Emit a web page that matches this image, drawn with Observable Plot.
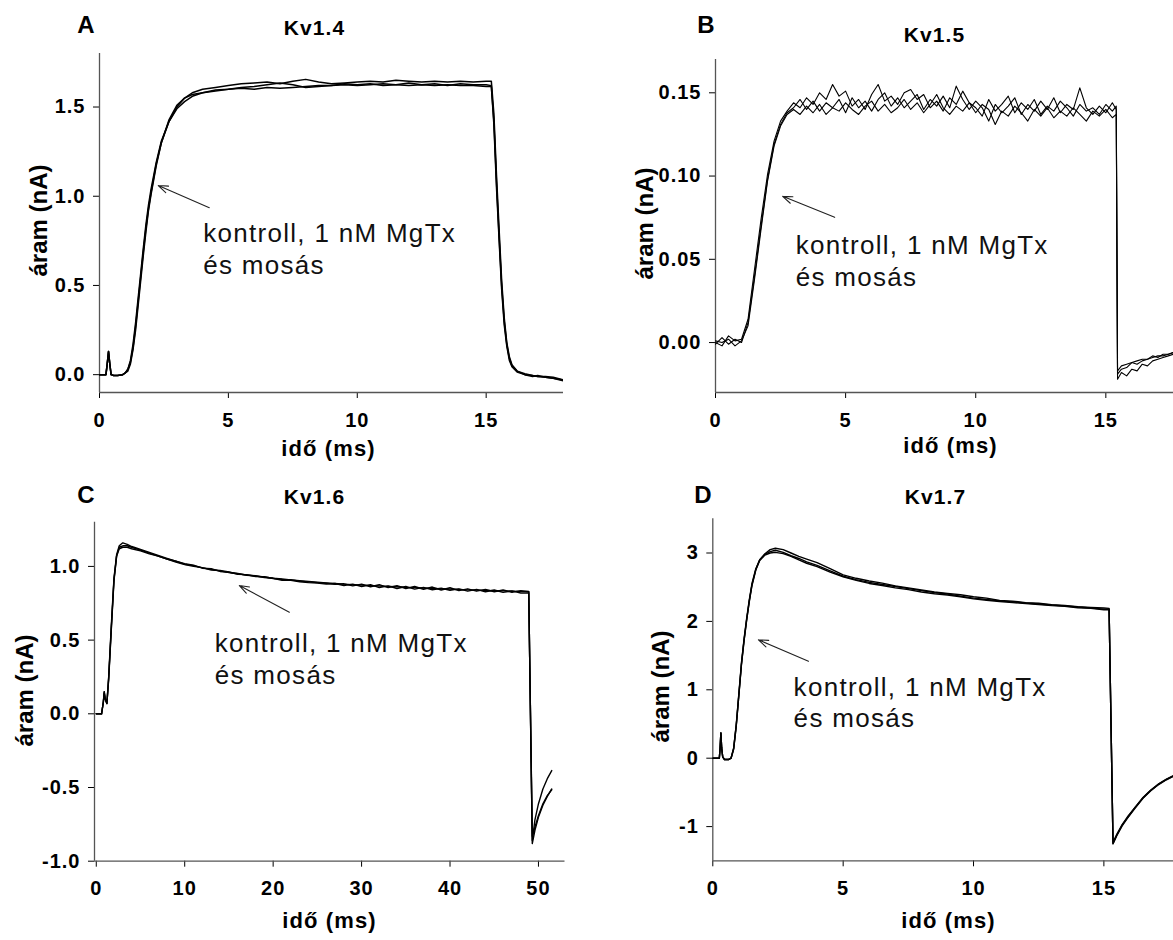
<!DOCTYPE html>
<html><head><meta charset="utf-8">
<script src="https://cdn.jsdelivr.net/npm/d3@7"></script>
<script src="https://cdn.jsdelivr.net/npm/@observablehq/plot@0.6"></script>
<style>
html,body{margin:0;padding:0;background:#fff;}
body{width:1173px;height:940px;position:relative;overflow:hidden;}
.panel{position:absolute;}
</style></head><body>
<div id="pA" class="panel" style="left:0;top:0;width:586px;height:470px"></div>
<div id="pB" class="panel" style="left:586px;top:0;width:587px;height:470px"></div>
<div id="pC" class="panel" style="left:0;top:470px;width:586px;height:470px"></div>
<div id="pD" class="panel" style="left:586px;top:470px;width:587px;height:470px"></div>
<script>
// ---------- shared text ----------
const noteLines = ["kontroll, 1 nM MgTx", "és mosás"];
const xLabel = "idő (ms)";
const yLabel = "áram (nA)";

// ---------- Panel A: Kv1.4 ----------
const tA = [0, 0.25, 0.3, 0.35, 0.4, 0.45, 0.55, 0.7, 0.9, 1.0, 1.1, 1.2, 1.3, 1.4, 1.5, 1.6, 1.7, 1.8, 1.9, 2.0, 2.2, 2.4, 2.7, 3.0, 3.3, 3.6, 4.0, 4.5, 5.0, 5.5, 6.0, 6.5, 7.0, 7.5, 8.0, 8.5, 9.0, 9.5, 10.0, 10.5, 11.0, 11.5, 12.0, 12.5, 13.0, 13.5, 14.0, 14.5, 15.0, 15.2, 15.3, 15.4, 15.5, 15.6, 15.7, 15.8, 15.9, 16.0, 16.2, 16.5, 16.8, 17.0, 17.3, 17.6, 18.0];
const a1 = [0, 0, 0.06, 0.13, 0.06, 0.0, -0.005, -0.005, 0.0, 0.01, 0.03, 0.08, 0.17, 0.29, 0.43, 0.57, 0.71, 0.84, 0.95, 1.04, 1.19, 1.31, 1.42, 1.49, 1.53, 1.56, 1.58, 1.59, 1.60, 1.605, 1.60, 1.61, 1.605, 1.61, 1.615, 1.62, 1.62, 1.625, 1.62, 1.625, 1.63, 1.625, 1.62, 1.625, 1.62, 1.625, 1.62, 1.62, 1.615, 1.615, 1.42, 1.08, 0.78, 0.50, 0.30, 0.17, 0.09, 0.05, 0.02, 0.0, -0.005, -0.01, -0.01, -0.015, -0.03];
const a2 = [0, 0, 0.06, 0.13, 0.06, 0.0, -0.005, -0.005, 0.0, 0.01, 0.03, 0.07, 0.15, 0.27, 0.41, 0.55, 0.69, 0.82, 0.93, 1.02, 1.18, 1.30, 1.42, 1.50, 1.55, 1.58, 1.60, 1.61, 1.62, 1.63, 1.635, 1.64, 1.63, 1.645, 1.655, 1.64, 1.63, 1.635, 1.64, 1.645, 1.64, 1.65, 1.645, 1.64, 1.645, 1.64, 1.645, 1.64, 1.645, 1.645, 1.46, 1.12, 0.82, 0.53, 0.32, 0.18, 0.10, 0.055, 0.02, 0.005, -0.005, -0.01, -0.015, -0.02, -0.03];
const a3 = [0, 0, 0.06, 0.13, 0.06, 0.0, -0.005, -0.005, 0.0, 0.01, 0.02, 0.06, 0.14, 0.25, 0.39, 0.53, 0.67, 0.80, 0.92, 1.01, 1.17, 1.30, 1.43, 1.51, 1.55, 1.57, 1.58, 1.595, 1.60, 1.61, 1.615, 1.625, 1.635, 1.625, 1.61, 1.615, 1.62, 1.63, 1.625, 1.63, 1.62, 1.625, 1.635, 1.625, 1.63, 1.62, 1.63, 1.625, 1.625, 1.62, 1.40, 1.05, 0.76, 0.48, 0.28, 0.16, 0.08, 0.045, 0.015, 0.0, -0.01, -0.005, -0.015, -0.02, -0.035];
const xTicksA = [0, 5, 10, 15];
const yTicksA = [0, 0.5, 1.0, 1.5];

// ---------- Panel B: Kv1.5 ----------
const tB = [0, 0.25, 0.5, 0.75, 1, 1.25, 1.5, 1.75, 2, 2.25, 2.5, 2.75, 3, 3.25, 3.5, 3.75, 4, 4.25, 4.5, 4.75, 5, 5.25, 5.5, 5.75, 6, 6.25, 6.5, 6.75, 7, 7.25, 7.5, 7.75, 8, 8.25, 8.5, 8.75, 9, 9.25, 9.5, 9.75, 10, 10.25, 10.5, 10.75, 11, 11.25, 11.5, 11.75, 12, 12.25, 12.5, 12.75, 13, 13.25, 13.5, 13.75, 14, 14.25, 14.5, 14.75, 15, 15.25, 15.4, 15.45, 15.6, 15.8, 16, 16.2, 16.4, 16.6, 16.8, 17, 17.2, 17.4, 17.6];
const b1 = [0.000, -0.002, 0.004, 0.001, 0.002, 0.014, 0.044, 0.074, 0.101, 0.121,
  0.133, 0.139, 0.144, 0.141, 0.147, 0.143, 0.150, 0.146, 0.155, 0.148,
  0.151, 0.142, 0.146, 0.140, 0.149, 0.155, 0.145, 0.148, 0.143, 0.150,
  0.152, 0.146, 0.149, 0.141, 0.145, 0.139, 0.147, 0.143, 0.151, 0.144,
  0.141, 0.136, 0.146, 0.139, 0.143, 0.148, 0.138, 0.144, 0.140, 0.146,
  0.137, 0.142, 0.139, 0.145, 0.141, 0.136, 0.143, 0.139, 0.141, 0.137,
  0.143, 0.139, 0.142,
  -0.017, -0.014, -0.013, -0.012, -0.011, -0.010, -0.010, -0.009, -0.008, -0.008, -0.007, -0.006];
const b2 = [-0.001, 0.003, -0.001, 0.002, 0.000, 0.012, 0.040, 0.070, 0.098, 0.119,
  0.131, 0.138, 0.141, 0.146, 0.140, 0.145, 0.139, 0.144, 0.141, 0.146,
  0.138, 0.147, 0.141, 0.145, 0.139, 0.146, 0.150, 0.142, 0.147, 0.141,
  0.145, 0.149, 0.140, 0.146, 0.142, 0.148, 0.141, 0.154, 0.146, 0.140,
  0.145, 0.141, 0.133, 0.143, 0.138, 0.142, 0.147, 0.137, 0.143, 0.139,
  0.145, 0.140, 0.147, 0.138, 0.143, 0.140, 0.153, 0.141, 0.137, 0.142,
  0.138, 0.144, 0.140,
  -0.019, -0.016, -0.015, -0.012, -0.013, -0.011, -0.010, -0.008, -0.009, -0.007, -0.007, -0.006];
const b3 = [0.001, 0.000, 0.002, -0.002, 0.001, 0.010, 0.038, 0.068, 0.097, 0.118,
  0.130, 0.137, 0.140, 0.137, 0.142, 0.138, 0.143, 0.137, 0.141, 0.139,
  0.144, 0.140, 0.137, 0.142, 0.145, 0.139, 0.143, 0.138, 0.141, 0.146,
  0.140, 0.144, 0.138, 0.143, 0.149, 0.141, 0.137, 0.142, 0.139, 0.144,
  0.138, 0.143, 0.140, 0.131, 0.139, 0.136, 0.142, 0.138, 0.133, 0.140,
  0.136, 0.141, 0.135, 0.139, 0.136, 0.141, 0.137, 0.133, 0.139, 0.136,
  0.140, 0.135, 0.137,
  -0.022, -0.018, -0.020, -0.016, -0.017, -0.013, -0.014, -0.011, -0.010, -0.009, -0.008, -0.007];
const xTicksB = [0, 5, 10, 15];
const yTicksB = [0, 0.05, 0.10, 0.15];

// ---------- Panel C: Kv1.6 ----------
const tC = [0, 0.6, 0.8, 0.9, 1.0, 1.2, 1.4, 1.7, 2.0, 2.3, 2.6, 3.0, 3.5, 4, 5, 6, 7, 8, 9, 10, 11, 12, 13, 14, 15, 16, 17, 18, 19, 20, 21, 22, 23, 24, 25, 26, 27, 28, 29, 30, 31, 32, 33, 34, 35, 36, 37, 38, 39, 40, 41, 42, 43, 44, 45, 46, 47, 48, 48.9, 49.3, 49.6, 50.0, 50.5, 51.0, 51.5];
const c1 = [0, 0, 0.08, 0.15, 0.10, 0.07, 0.25, 0.60, 0.92, 1.08, 1.14, 1.16, 1.15,
  1.135, 1.115, 1.095, 1.075, 1.055, 1.035, 1.015, 1.005, 0.99, 0.98,
  0.97, 0.958, 0.95, 0.942, 0.935, 0.928, 0.92, 0.915, 0.908, 0.903,
  0.898, 0.893, 0.888, 0.884, 0.88, 0.876, 0.873, 0.87, 0.867, 0.864,
  0.862, 0.858, 0.856, 0.853, 0.851, 0.848, 0.846, 0.843, 0.841, 0.839,
  0.837, 0.835, 0.834, 0.832, 0.831,
  0.83, -0.86, -0.72, -0.61, -0.51, -0.44, -0.385];
const c2 = [0, 0, 0.08, 0.14, 0.10, 0.07, 0.23, 0.57, 0.90, 1.07, 1.13, 1.14, 1.14,
  1.13, 1.11, 1.09, 1.07, 1.05, 1.03, 1.012, 1.0, 0.992, 0.976,
  0.972, 0.962, 0.946, 0.944, 0.932, 0.93, 0.918, 0.912, 0.91, 0.9,
  0.895, 0.89, 0.886, 0.878, 0.882, 0.868, 0.88, 0.862, 0.876, 0.856,
  0.87, 0.85, 0.864, 0.845, 0.86, 0.84, 0.855, 0.836, 0.848, 0.832,
  0.844, 0.828, 0.84, 0.824, 0.836,
  0.828, -0.88, -0.79, -0.70, -0.62, -0.56, -0.51];
const c3 = [0, 0, 0.08, 0.15, 0.11, 0.07, 0.24, 0.58, 0.91, 1.07, 1.12, 1.13, 1.13,
  1.12, 1.105, 1.085, 1.07, 1.05, 1.035, 1.018, 1.008, 0.988, 0.984,
  0.966, 0.96, 0.952, 0.94, 0.937, 0.925, 0.92, 0.906, 0.905, 0.896,
  0.89, 0.887, 0.88, 0.884, 0.87, 0.88, 0.864, 0.876, 0.856, 0.868,
  0.85, 0.864, 0.846, 0.858, 0.842, 0.852, 0.838, 0.848, 0.832, 0.844,
  0.828, 0.84, 0.824, 0.834, 0.82,
  0.82, -0.83, -0.77, -0.69, -0.61, -0.555, -0.515];
const xTicksC = [0, 10, 20, 30, 40, 50];
const yTicksC = [-1.0, -0.5, 0, 0.5, 1.0];

// ---------- Panel D: Kv1.7 ----------
const tD = [0, 0.25, 0.28, 0.31, 0.34, 0.38, 0.45, 0.6, 0.7, 0.8, 0.9, 1.0, 1.1, 1.2, 1.3, 1.4, 1.5, 1.65, 1.8, 2.0, 2.2, 2.4, 2.7, 3.0, 3.3, 3.6, 4.0, 4.5, 5.0, 5.5, 6.0, 6.5, 7.0, 7.5, 8.0, 8.5, 9.0, 9.5, 10.0, 10.5, 11.0, 11.5, 12.0, 12.5, 13.0, 13.5, 14.0, 14.5, 15.0, 15.2, 15.35, 15.5, 15.7, 15.9, 16.2, 16.5, 16.8, 17.1, 17.4, 17.67];
const d1 = [0, 0, 0.15, 0.37, 0.15, 0.02, -0.02, -0.02, 0.0,
  0.15, 0.5, 0.95, 1.4, 1.75, 2.05, 2.32, 2.55,
  2.77, 2.9, 2.98, 3.02, 3.04, 3.01, 2.96, 2.92, 2.87,
  2.82, 2.74, 2.66, 2.61, 2.57, 2.54, 2.51, 2.48, 2.45, 2.42, 2.40, 2.37, 2.34, 2.32, 2.30, 2.285, 2.27, 2.255, 2.24, 2.225, 2.21, 2.195, 2.18,
  2.18,
  -1.25, -1.12, -0.98, -0.87, -0.72, -0.58, -0.47, -0.38, -0.31, -0.26];
const d2 = [0, 0, 0.15, 0.37, 0.15, 0.02, -0.02, -0.02, 0.0,
  0.14, 0.48, 0.93, 1.38, 1.73, 2.03, 2.30, 2.53,
  2.76, 2.9, 2.99, 3.05, 3.07, 3.05, 3.0, 2.95, 2.91,
  2.86, 2.77, 2.68, 2.63, 2.59, 2.56, 2.52, 2.49, 2.46, 2.43, 2.41, 2.39, 2.36, 2.34, 2.305, 2.295, 2.275, 2.265, 2.245, 2.235, 2.215, 2.205, 2.195,
  2.19,
  -1.25, -1.13, -0.99, -0.88, -0.73, -0.585, -0.475, -0.385, -0.315, -0.265];
const d3v = [0, 0, 0.15, 0.37, 0.15, 0.02, -0.02, -0.02, 0.0,
  0.13, 0.47, 0.92, 1.37, 1.72, 2.02, 2.29, 2.52,
  2.75, 2.89, 2.97, 3.0, 3.01, 2.99, 2.95, 2.9, 2.85,
  2.8, 2.72, 2.65, 2.6, 2.555, 2.525, 2.49, 2.465, 2.43, 2.405, 2.385, 2.36, 2.33, 2.31, 2.29, 2.275, 2.26, 2.245, 2.23, 2.22, 2.2, 2.19, 2.17,
  2.17,
  -1.23, -1.11, -0.97, -0.86, -0.715, -0.575, -0.465, -0.375, -0.305, -0.255];
const xTicksD = [0, 5, 10, 15];
const yTicksD = [-1, 0, 1, 2, 3];

// ---------- drawing ----------
const FONT = "'Liberation Sans', Arial, Helvetica, sans-serif";
const TICK_FONT = "20px";

function panel(elId, cfg) {
  const data = [];
  cfg.series.forEach((s, k) => s.forEach((v, i) => data.push({t: cfg.t[i], v, k})));
  const L = cfg.layout;
  const at = (p) => ({frameAnchor: "top-left", dx: p[0] - L.ml, dy: p[1] - L.mt, lineAnchor: "middle", textAnchor: "middle"});
  const svg = Plot.plot({
    width: L.w, height: L.h,
    marginLeft: L.ml, marginRight: L.mr, marginTop: L.mt, marginBottom: L.mb,
    style: {fontFamily: FONT, fontSize: TICK_FONT, fontWeight: "bold", color: "#000", background: "#fff", overflow: "visible", maxWidth: "none"},
    x: {domain: cfg.xDomain, ticks: cfg.xTicks, tickFormat: d => String(d), tickSize: 6, tickPadding: 14, label: null},
    y: {domain: cfg.yDomain, ticks: cfg.yTicks, tickFormat: cfg.yFormat, tickSize: 6, tickPadding: 8, label: null},
    marks: [
      Plot.ruleX([cfg.xDomain[0]], {stroke: "#555", strokeWidth: 1.3}),
      Plot.ruleY([cfg.yDomain[0]], {stroke: "#555", strokeWidth: 1.3}),
      Plot.line(data, {x: "t", y: "v", z: "k", stroke: "#000", strokeWidth: cfg.lw, clip: true}),
      Plot.arrow([cfg.arrow], {x1: "x1", y1: "y1", x2: "x2", y2: "y2", stroke: "#222", strokeWidth: 1.1, headLength: 14, headAngle: 40}),
      Plot.text(noteLines, {x: () => cfg.note.x, y: (d, i) => cfg.note.y[i], text: d => d, textAnchor: "start", lineAnchor: "middle", fontSize: 26, fontWeight: "normal", fill: "#111"}),
      Plot.text([cfg.letter], {text: d => d, ...at(L.letter), fontSize: 24}),
      Plot.text([cfg.title], {text: d => d, ...at(L.title), fontSize: 21}),
      Plot.text([xLabel], {text: d => d, ...at(L.xlab), fontSize: 22}),
      Plot.text([yLabel], {text: d => d, ...at(L.ylab), fontSize: 24, rotate: -90})
    ]
  });
  // tick labels: enforce size/weight on the axis groups
  svg.querySelectorAll("g[aria-label]").forEach(g => {
    const lab = g.getAttribute("aria-label") || "";
    if (/tick label|^x-axis$|^y-axis$/.test(lab)) {
      g.setAttribute("font-size", "20");
      g.style.fontSize = TICK_FONT;
      g.style.fontWeight = "bold";
      g.querySelectorAll("text").forEach(t => { t.style.fontSize = TICK_FONT; t.style.fontWeight = "bold"; });
    }
  });
  svg.querySelectorAll("text").forEach(el => {
    const tr = el.getAttribute("transform") || "";
    el.style.letterSpacing = tr.includes("rotate") ? "0" : "0.05em";
  });
  document.getElementById(elId).appendChild(svg);
}

const f1 = d => d.toFixed(1);
const f2 = d => d.toFixed(2);

panel("pA", {
  t: tA, series: [a1, a2, a3], letter: "A", title: "Kv1.4", lw: 1.5,
  xDomain: [0, 18], yDomain: [-0.1, 1.8], xTicks: xTicksA, yTicks: yTicksA, yFormat: f1,
  note: {x: 4.02, y: [0.789, 0.609]}, arrow: {x1: 4.26, y1: 0.936, x2: 2.28, y2: 1.06},
  layout: {w: 586, h: 470, ml: 99, mr: 23, mt: 53, mb: 78, letter: [86, 25], title: [314, 28], xlab: [328, 448], ylab: [39, 220]}
});
panel("pB", {
  t: tB, series: [b1, b2, b3], letter: "B", title: "Kv1.5", lw: 1.1,
  xDomain: [0, 17.6], yDomain: [-0.03, 0.17], xTicks: xTicksB, yTicks: yTicksB, yFormat: f2,
  note: {x: 3.08, y: [0.0584, 0.0392]}, arrow: {x1: 4.58, y1: 0.0752, x2: 2.58, y2: 0.0878},
  layout: {w: 587, h: 470, ml: 129, mr: 0, mt: 59, mb: 78, letter: [120, 25], title: [348, 35], xlab: [364, 445], ylab: [59, 223]}
});
panel("pC", {
  t: tC, series: [c1, c2, c3], letter: "C", title: "Kv1.6", lw: 1.4,
  xDomain: [-0.2, 53], yDomain: [-1.0, 1.3], xTicks: xTicksC, yTicks: yTicksC, yFormat: f1,
  note: {x: 13.4, y: [0.477, 0.26]}, arrow: {x1: 21.83, y1: 0.689, x2: 16.18, y2: 0.87},
  layout: {w: 586, h: 470, ml: 94, mr: 21.5, mt: 51.7, mb: 79.3, letter: [86, 25], title: [314, 27], xlab: [329, 450], ylab: [25, 220]}
});
panel("pD", {
  t: tD, series: [d1, d2, d3v], letter: "D", title: "Kv1.7", lw: 1.4,
  xDomain: [0, 17.67], yDomain: [-1.5, 3.5], xTicks: xTicksD, yTicks: yTicksD, yFormat: d => String(d),
  note: {x: 3.10, y: [1.038, 0.58]}, arrow: {x1: 3.67, y1: 1.418, x2: 1.75, y2: 1.731},
  layout: {w: 587, h: 470, ml: 126.3, mr: 0, mt: 48.3, mb: 79.7, letter: [117, 25], title: [349, 27], xlab: [362, 450], ylab: [75, 216]}
});
</script>
</body></html>
